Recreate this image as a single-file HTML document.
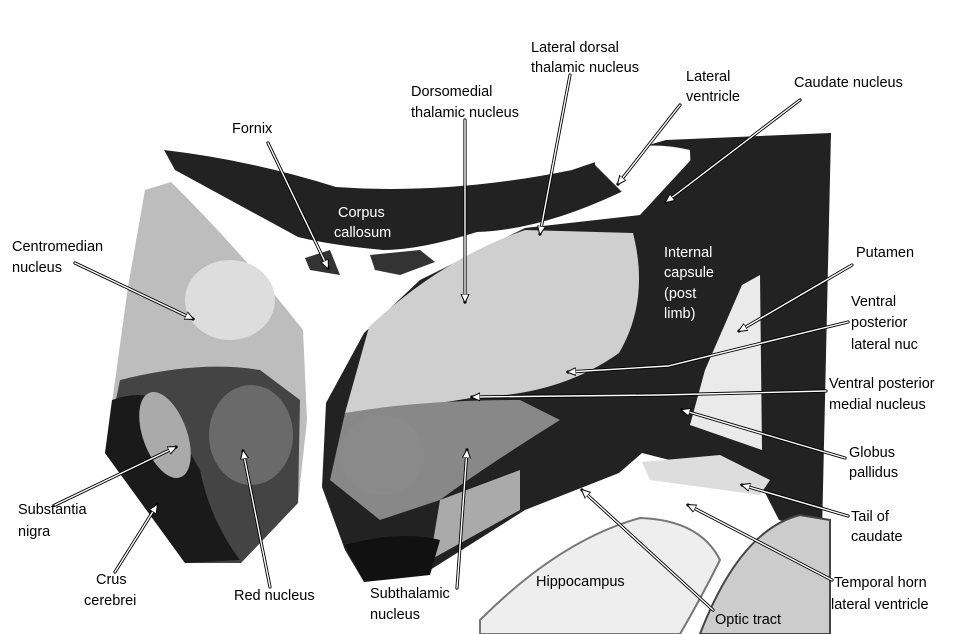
<!DOCTYPE html>
<html><head><meta charset="utf-8"><style>
html,body{margin:0;padding:0;background:#fff;}
svg{display:block;}
text{font-family:"Liberation Sans",Arial,sans-serif;font-size:14.5px;fill:#000;}
.w{fill:#fff;}
</style></head><body>
<svg width="960" height="634" viewBox="0 0 960 634" xmlns="http://www.w3.org/2000/svg">
<defs>
<marker id="ah" markerWidth="10" markerHeight="10" refX="8" refY="5" orient="auto" markerUnits="userSpaceOnUse">
<path d="M0,1 L9,5 L0,9 Z" fill="#fff" stroke="#000" stroke-width="1"/>
</marker>
</defs>
<!-- corpus callosum -->
<path d="M164,150 Q250,160 336,187 Q450,195 572,170 Q630,150 666,140 L831,133 L822,200 L690,220 Q660,170 619,193 Q540,230 477,232 Q420,250 383,250 Q330,245 298,237 Q230,200 175,170 Z" fill="#222"/>
<path d="M595,152 Q650,140 690,150 L692,215 Q660,225 630,200 Q610,180 595,165Z" fill="#fff"/>
<path d="M305,258 L330,250 L340,275 L310,270Z M370,255 L420,250 L435,262 L400,275 L375,270Z" fill="#333"/>
<!-- left block -->
<path d="M145,190 L171,182 Q240,250 303,330 L307,420 L298,503 L241,563 L185,563 L105,453 L128,287 Z" fill="#bdbdbd"/>
<path d="M120,380 Q200,360 260,370 L300,400 L298,503 L241,563 L185,563 L105,453 Z" fill="#444"/>
<path d="M112,400 Q140,390 160,400 L200,470 Q210,520 240,560 L185,563 L105,453Z" fill="#1a1a1a"/>
<ellipse cx="165" cy="435" rx="22" ry="45" fill="#aaa" transform="rotate(-20 165 435)"/>
<ellipse cx="251" cy="435" rx="42" ry="50" fill="#6a6a6a"/>
<ellipse cx="230" cy="300" rx="45" ry="40" fill="#ddd"/>
<!-- right main tissue -->
<path d="M364,333 L420,280 L525,228 L640,215 L700,150 L831,133 L822,533 L779,520 L760,483 L642,453 L619,473 L525,510 L430,570 L364,582 L345,550 L322,487 L326,403 Z" fill="#222"/>
<path d="M369,327 Q440,260 525,230 L633,233 Q650,300 619,353 Q560,395 477,397 Q400,410 345,413 Z" fill="#cfcfcf"/>
<path d="M345,413 Q420,400 520,400 L560,420 Q480,470 440,500 L380,520 L330,480 Z" fill="#888"/>
<ellipse cx="382" cy="455" rx="42" ry="40" fill="#8a8a8a"/>
<path d="M440,500 L520,470 L520,510 L430,560Z" fill="#aaa"/>
<path d="M345,545 Q400,530 440,540 L430,575 L364,582 Z" fill="#111"/>
<path d="M742,285 L760,275 L762,450 L690,425 L705,370 Z" fill="#eaeaea"/>
<path d="M642,462 L720,455 L770,480 L760,495 L650,480Z" fill="#ddd"/>
<!-- hippocampus -->
<path d="M480,620 Q560,540 640,518 Q700,520 720,560 Q700,600 680,634 L480,634 Z" fill="#eee" stroke="#777" stroke-width="2"/>
<path d="M700,634 Q740,530 800,515 L830,520 L830,634 Z" fill="#ccc" stroke="#444" stroke-width="2"/>
<!-- labels -->
<text x="531" y="52">Lateral dorsal</text><text x="531" y="72">thalamic nucleus</text>
<text x="686" y="81">Lateral</text><text x="686" y="101">ventricle</text>
<text x="794" y="87">Caudate nucleus</text>
<text x="411" y="96">Dorsomedial</text><text x="411" y="117">thalamic nucleus</text>
<text x="232" y="133">Fornix</text>
<text class="w" x="338" y="217">Corpus</text><text class="w" x="334" y="237">callosum</text>
<text class="w" x="664" y="257">Internal</text><text class="w" x="664" y="277">capsule</text><text class="w" x="664" y="298">(post</text><text class="w" x="664" y="318">limb)</text>
<text x="12" y="251">Centromedian</text><text x="12" y="272">nucleus</text>
<text x="856" y="257">Putamen</text>
<text x="851" y="306">Ventral</text><text x="851" y="327">posterior</text><text x="851" y="349">lateral nuc</text>
<text x="829" y="388">Ventral posterior</text><text x="829" y="409">medial nucleus</text>
<text x="849" y="457">Globus</text><text x="849" y="477">pallidus</text>
<text x="18" y="514">Substantia</text><text x="18" y="536">nigra</text>
<text x="851" y="521">Tail of</text><text x="851" y="541">caudate</text>
<text x="96" y="584">Crus</text><text x="84" y="605">cerebrei</text>
<text x="234" y="600">Red nucleus</text>
<text x="370" y="598">Subthalamic</text><text x="370" y="619">nucleus</text>
<text x="536" y="586">Hippocampus</text>
<text x="834" y="587">Temporal horn</text><text x="831" y="609">lateral ventricle</text>
<text x="715" y="624">Optic tract</text>
<!-- arrows -->
<g fill="none" stroke-linecap="round">
<g stroke="#000" stroke-width="3.2">
<path d="M570,75 L540,234"/><path d="M680,105 L618,184"/><path d="M800,100 L666,202"/>
<path d="M465,120 L465,302"/><path d="M268,143 L328,268"/><path d="M75,263 L193,319"/>
<path d="M852,265 L739,331"/><path d="M848,322 L668,366 L568,372"/><path d="M826,391 L660,395 L472,397"/>
<path d="M845,458 L682,410"/><path d="M848,516 L742,485"/><path d="M832,580 L688,505"/>
<path d="M713,610 L582,490"/><path d="M457,588 L467,450"/><path d="M270,587 L243,451"/>
<path d="M55,505 L176,447"/><path d="M115,572 L157,505"/>
</g>
<g stroke="#fff" stroke-width="1.4" marker-end="url(#ah)">
<path d="M570,75 L540,234"/><path d="M680,105 L618,184"/><path d="M800,100 L666,202"/>
<path d="M465,120 L465,302"/><path d="M268,143 L328,268"/><path d="M75,263 L193,319"/>
<path d="M852,265 L739,331"/><path d="M848,322 L668,366 L568,372"/><path d="M826,391 L660,395 L472,397"/>
<path d="M845,458 L682,410"/><path d="M848,516 L742,485"/><path d="M832,580 L688,505"/>
<path d="M713,610 L582,490"/><path d="M457,588 L467,450"/><path d="M270,587 L243,451"/>
<path d="M55,505 L176,447"/><path d="M115,572 L157,505"/>
</g>
</g>
</svg>
</body></html>
